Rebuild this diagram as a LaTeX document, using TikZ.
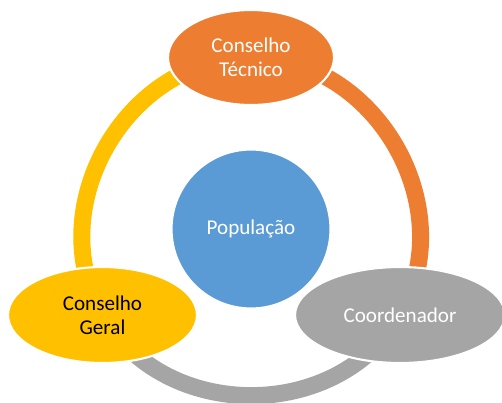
\documentclass[tikz,border=0pt]{standalone}
\usepackage{fontspec}
\setmainfont{Carlito}
\usetikzlibrary{shapes.geometric,backgrounds}
\definecolor{laranja}{HTML}{ED7D31}
\definecolor{amarelo}{HTML}{FFC000}
\definecolor{cinza}{HTML}{A5A5A5}
\definecolor{azul}{HTML}{5B9BD5}
\begin{document}
\begin{tikzpicture}[x=0.02cm, y=-0.02cm, main/.style = {ellipse, draw=white, line width=1.2pt, inner sep=0pt, align=center, font=\fontsize{12}{13.6}\selectfont}, ring/.style = {line width=0.34cm, bend left=60, looseness=1.07}]
        \useasboundingbox (0,0) rectangle (502,402);
        \node[main, circle, fill=azul, text=white, minimum size=3.18cm] (0) at (251,229) {População};
        \node[main, fill=laranja, text=white, minimum width=3.32cm, minimum height=1.9cm] (1) at (251,57.5) {Conselho\\Técnico};
        \node[main, fill=cinza, text=white, minimum width=4.2cm, minimum height=1.92cm] (2) at (400,315) {Coordenador};
        \node[main, fill=amarelo, text=black, minimum width=3.78cm, minimum height=1.92cm] (3) at (102.5,315) {Conselho\\Geral};

        \begin{scope}[on background layer]
        \draw[ring, laranja] (1.center) to (2.center);
        \draw[ring, cinza] (2.center) to (3.center);
        \draw[ring, amarelo] (3.center) to (1.center);
        \end{scope}
    \end{tikzpicture}
\end{document}
